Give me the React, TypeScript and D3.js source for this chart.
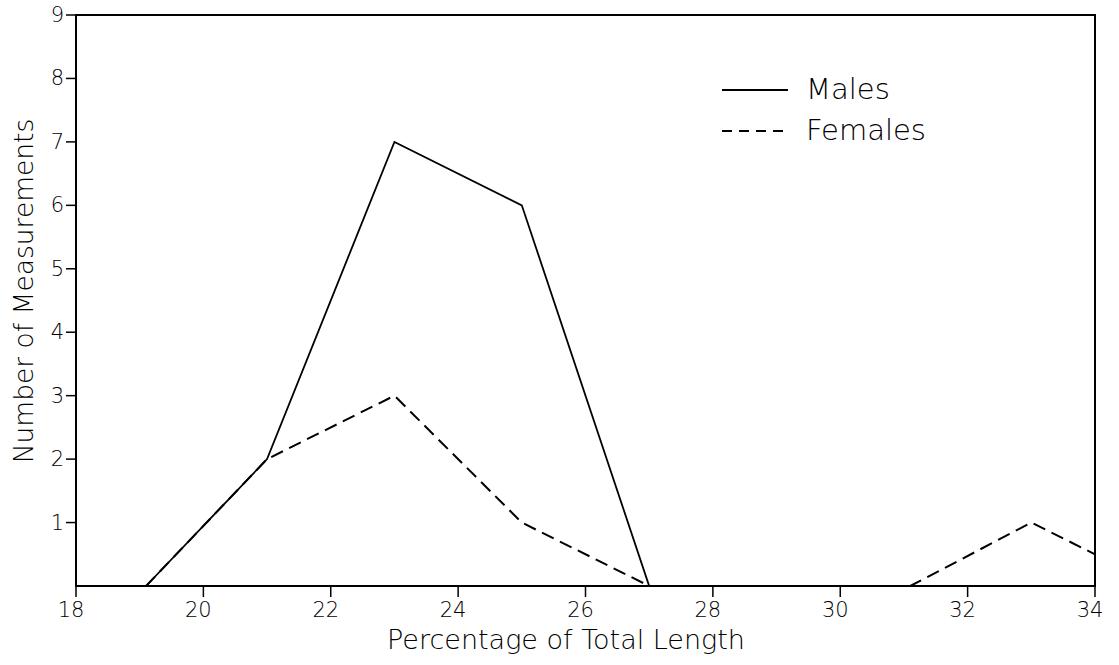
import React from "react";
import * as d3 from "d3";

const xTicks = [18, 20, 22, 24, 26, 28, 30, 32, 34];
const yTicks = [1, 2, 3, 4, 5, 6, 7, 8, 9];

const malesX = [19.1, 21, 23, 25, 27, 34];
const malesY = [0, 2, 7, 6, 0, 0];

const femalesX = [19.1, 21, 23, 25, 27, 31.1, 33, 34];
const femalesY = [0, 2, 3, 1, 0, 0, 1, 0.5];

const legendLabels = ["Males", "Females"];
const xTitle = "Percentage of Total Length";
const yTitle = "Number of Measurements";

const W = 1119;
const H = 665;
const FONT = "'DejaVu Sans', sans-serif";

export default function App() {
  const x = d3.scaleLinear().domain([18, 34]).range([76, 1095]);
  const y = d3.scaleLinear().domain([0, 9]).range([586, 15]);

  const line = d3
    .line<[number, number]>()
    .x((d) => x(d[0]))
    .y((d) => y(d[1]));

  const males: [number, number][] = malesX.map((v, i) => [v, malesY[i]]);
  const females: [number, number][] = femalesX.map((v, i) => [v, femalesY[i]]);

  return (
    <svg
      width={W}
      height={H}
      style={{ position: "absolute", left: 0, top: 0, background: "#fff" }}
      fontFamily={FONT}
      fontWeight={200}
    >
      <rect x={0} y={0} width={W} height={H} fill="#fff" />
      {/* frame */}
      <rect
        x={x(18)}
        y={y(9)}
        width={x(34) - x(18)}
        height={y(0) - y(9)}
        fill="none"
        stroke="#000"
        strokeWidth={2}
      />
      {/* x ticks */}
      {xTicks.map((t) => (
        <g key={"xt" + t}>
          <line x1={x(t)} x2={x(t)} y1={y(0)} y2={y(0) + 11} stroke="#000" strokeWidth={1.5} />
          <text
            x={x(t) - 5}
            y={y(0) + 31}
            textAnchor="middle"
            fontSize={21}
            fill="#000"
          >
            {t}
          </text>
        </g>
      ))}
      {/* y ticks */}
      {yTicks.map((t) => (
        <g key={"yt" + t}>
          <line x1={x(18) - 10} x2={x(18)} y1={y(t)} y2={y(t)} stroke="#000" strokeWidth={1.5} />
          <text
            x={x(18) - 12}
            y={y(t) + 7}
            textAnchor="end"
            fontSize={21}
            fill="#000"
          >
            {t}
          </text>
        </g>
      ))}
      {/* data */}
      <path d={line(males) || ""} fill="none" stroke="#000" strokeWidth={1.8} />
      <path
        d={line(females) || ""}
        fill="none"
        stroke="#000"
        strokeWidth={2}
        strokeDasharray="13 7"
      />
      {/* legend */}
      <line x1={722} x2={788} y1={90} y2={90} stroke="#000" strokeWidth={1.8} />
      <text x={806} y={99} fontSize={29} fill="#000">
        {legendLabels[0]}
      </text>
      <line
        x1={722}
        x2={788}
        y1={131}
        y2={131}
        stroke="#000"
        strokeWidth={2}
        strokeDasharray="10 7"
      />
      <text x={806} y={140} fontSize={29} fill="#000">
        {legendLabels[1]}
      </text>
      {/* titles */}
      <text x={566} y={649} textAnchor="middle" fontSize={27} fill="#000">
        {xTitle}
      </text>
      <text
        transform={`translate(33, 291) rotate(-90)`}
        textAnchor="middle"
        fontSize={26.5}
        fill="#000"
      >
        {yTitle}
      </text>
    </svg>
  );
}
